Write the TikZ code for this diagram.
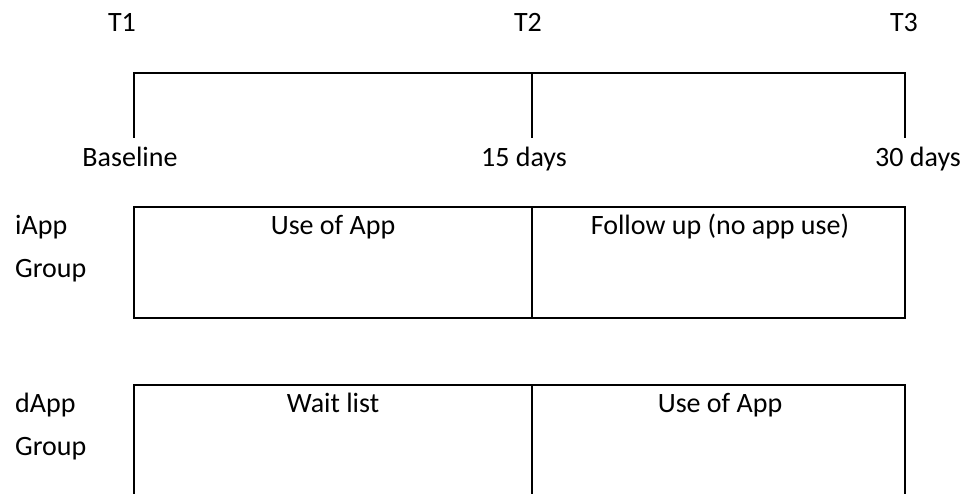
\documentclass[tikz,border=0pt]{standalone}
\usepackage{fontspec}
\setmainfont{Carlito}
\begin{document}
\begin{tikzpicture}[x=1pt,y=-1pt,
  lbl/.style={inner sep=0pt,font=\fontsize{28}{34}\selectfont},
  frame/.style={draw=black,line width=2.4pt,line join=miter}]
\useasboundingbox (0,0) rectangle (965,494);
% time points
\node[lbl,anchor=base] (t1) at (122,32) {T1};
\node[lbl,anchor=base] (t2) at (528,32) {T2};
\node[lbl,anchor=base] (t3) at (904,32) {T3};
% bracket
\coordinate (bl) at (134,138);
\coordinate (bm) at (532,138);
\coordinate (br) at (905,138);
\coordinate (tl) at (134,73);
\coordinate (tm) at (532,73);
\coordinate (tr) at (905,73);
\draw[frame] (bl) -- (tl) -- (tr) -- (br);
\draw[frame] (tm) -- (bm);
\node[lbl,anchor=base] (base) at (130,167) {Baseline};
\node[lbl,anchor=base] (d15) at (524,167) {15 days};
\node[lbl,anchor=base] (d30) at (918,167) {30 days};
% iApp group
\node[lbl,anchor=base west] (ia1) at (15,234) {iApp};
\node[lbl,anchor=base west] (ia2) at (15,277) {Group};
\draw[frame] (134,207) rectangle (905,318);
\draw[frame] (532,207) -- (532,318);
\node[lbl,anchor=base] (iuse) at (333,234) {Use of App};
\node[lbl,anchor=base] (ifol) at (720,234) {Follow up (no app use)};
% dApp group
\node[lbl,anchor=base west] (da1) at (15,412) {dApp};
\node[lbl,anchor=base west] (da2) at (15,455) {Group};
\draw[frame] (134,500) -- (134,385) -- (905,385) -- (905,500);
\draw[frame] (532,385) -- (532,500);
\node[lbl,anchor=base] (dwait) at (333,412) {Wait list};
\node[lbl,anchor=base] (duse) at (720,412) {Use of App};
\end{tikzpicture}
\end{document}
